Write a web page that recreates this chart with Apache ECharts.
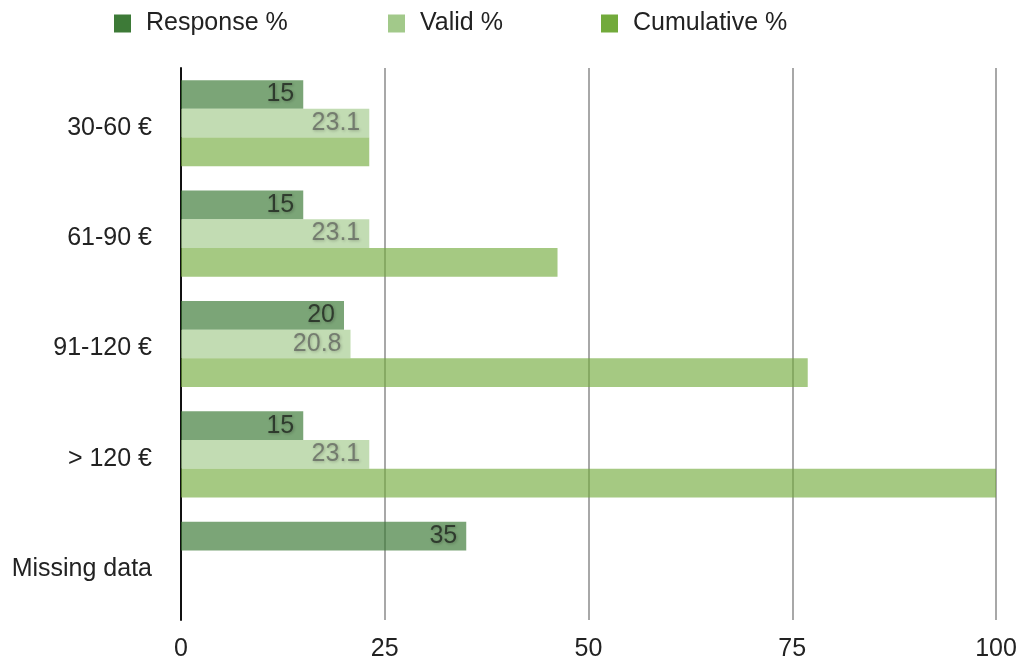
<!DOCTYPE html>
<html>
<head>
<meta charset="utf-8">
<script src="https://cdn.jsdelivr.net/npm/echarts@6/dist/echarts.min.js"></script>
<style>
  html, body { margin: 0; padding: 0; background: #fff; }
  #chart { width: 1023px; height: 665px; }
</style>
</head>
<body>
<div id="chart"></div>
<script>
// Price bands and their shares
const categories = ['30-60 €', '61-90 €', '91-120 €', '> 120 €', 'Missing data'];
const responsePct = [15, 15, 20, 15, 35];
const validPct = [23.1, 23.1, 20.8, 23.1, null];
const cumulativePct = [23.1, 46.2, 76.9, 100, null];
const xTicks = [0, 25, 50, 75, 100];
const seriesNames = ['Response %', 'Valid %', 'Cumulative %'];

const FONT = '"Liberation Sans", Arial, Helvetica, sans-serif';
const FS = 25;
const baseColors = ['#3d7a37', '#a2c98a', '#72aa3b'];
const legendLeft = [109, 383, 596];

const labelStyle = (color) => ({
  show: true,
  position: 'insideRight',
  distance: 9,
  fontFamily: FONT,
  fontSize: FS,
  color: color,
  textShadowColor: 'rgba(0,0,0,0.35)',
  textShadowBlur: 3,
  textShadowOffsetX: 1,
  textShadowOffsetY: 1,
  formatter: (p) => (p.value == null ? '' : String(p.value))
});

// one legend block per series so each can sit at its own spot
const legends = seriesNames.map((name, i) => ({
  top: 6,
  left: legendLeft[i],
  itemWidth: 17,
  itemHeight: 18,
  textStyle: { fontFamily: FONT, fontSize: FS, color: '#222', padding: [0, 0, 0, 10] },
  data: [{ name: name, icon: 'rect', itemStyle: { color: baseColors[i], opacity: 1 } }]
}));

const chart = echarts.init(document.getElementById('chart'), null, { renderer: 'canvas' });

chart.setOption({
  animation: false,
  backgroundColor: '#ffffff',
  textStyle: { fontFamily: FONT },
  legend: legends,
  grid: { left: 181, right: 27, top: 68, bottom: 45, containLabel: false },
  xAxis: {
    type: 'value',
    min: xTicks[0],
    max: xTicks[xTicks.length - 1],
    interval: xTicks[1] - xTicks[0],
    axisLine: { show: false },
    axisTick: { show: false },
    axisLabel: { fontFamily: FONT, fontSize: FS, color: '#222', margin: 17 },
    splitLine: { show: true, lineStyle: { color: '#a8a8a8', width: 2 } }
  },
  yAxis: {
    type: 'category',
    inverse: true,
    data: categories,
    axisLine: { show: true, onZero: false, lineStyle: { color: '#111', width: 2 } },
    axisTick: { show: false },
    axisLabel: {
      margin: 29,
      formatter: (v) => '{c|' + v + '}',
      rich: {
        c: { fontFamily: FONT, fontSize: FS, color: '#222', padding: [9, 0, 0, 0] }
      }
    }
  },
  series: [
    {
      name: seriesNames[0],
      type: 'bar',
      data: responsePct,
      barGap: '0%',
      barCategoryGap: '22%',
      itemStyle: { color: baseColors[0], opacity: 0.68 },
      label: labelStyle('#111')
    },
    {
      name: seriesNames[1],
      type: 'bar',
      data: validPct,
      itemStyle: { color: baseColors[1], opacity: 0.65 },
      label: labelStyle('#555')
    },
    {
      name: seriesNames[2],
      type: 'bar',
      data: cumulativePct,
      itemStyle: { color: baseColors[2], opacity: 0.64 },
      label: { show: false }
    }
  ]
});
</script>
</body>
</html>
